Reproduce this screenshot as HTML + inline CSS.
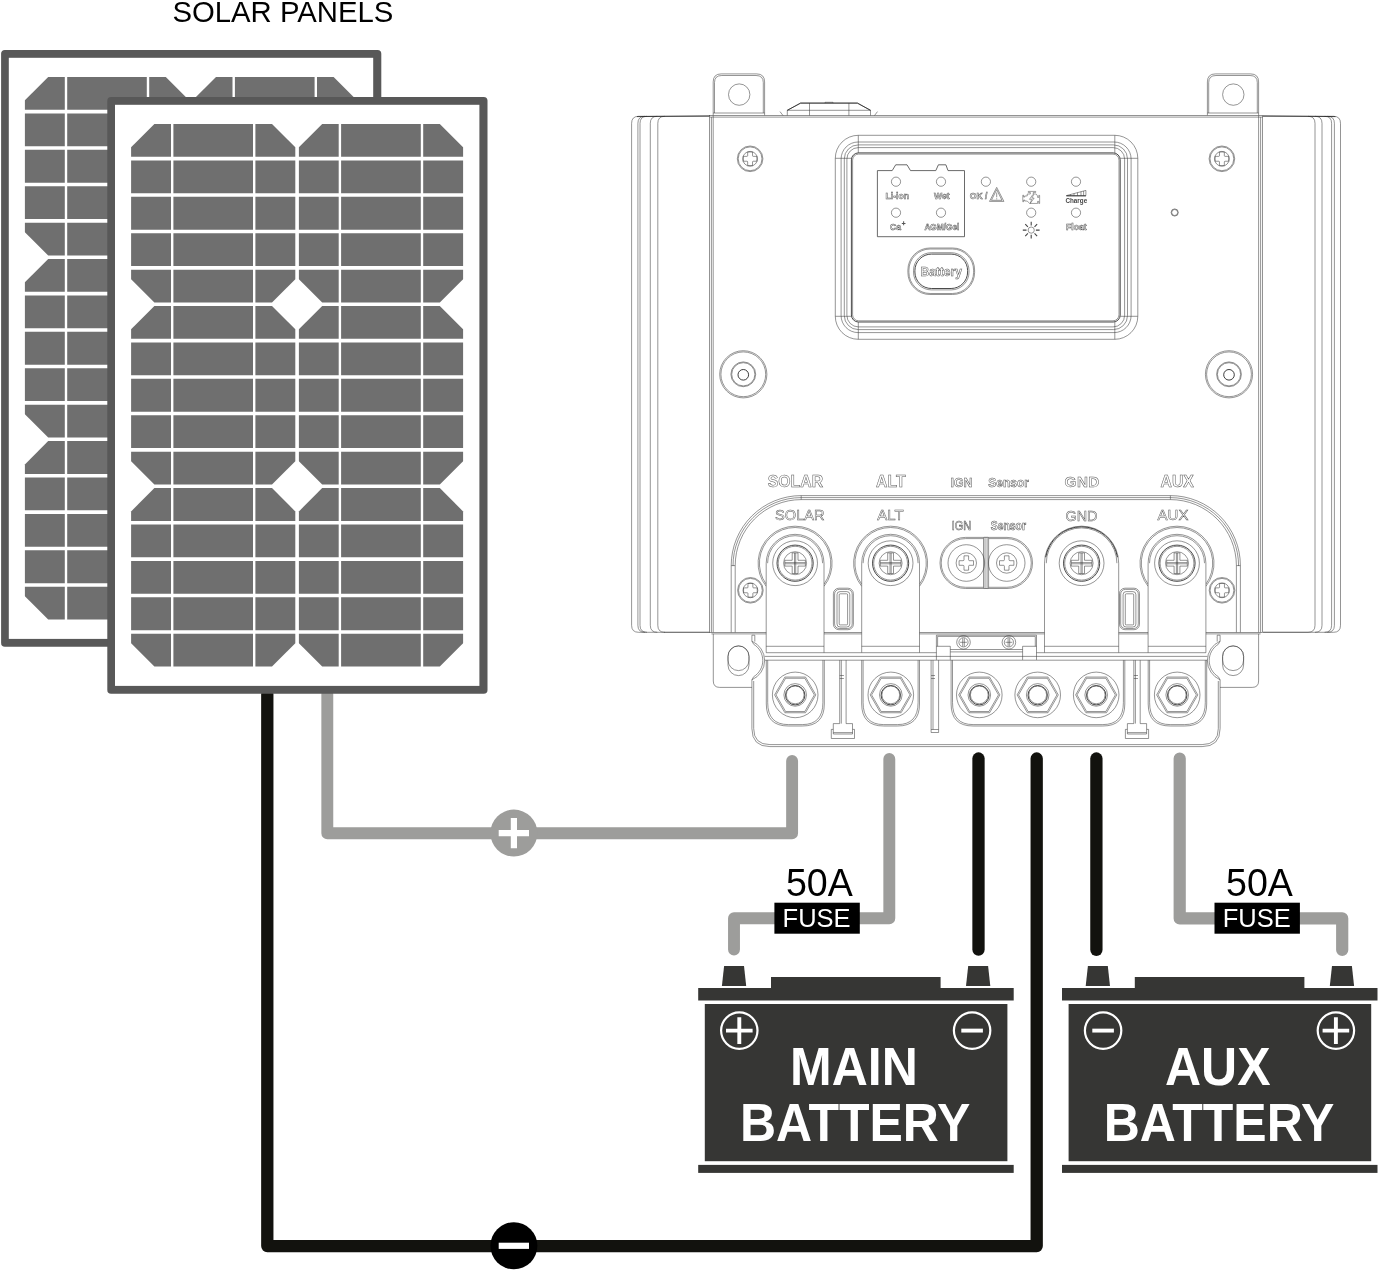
<!DOCTYPE html>
<html><head><meta charset="utf-8"><title>Solar wiring diagram</title>
<style>
html,body{margin:0;padding:0;background:#fff}
body{width:1378px;height:1270px;overflow:hidden}
svg{display:block;font-family:"Liberation Sans",sans-serif;will-change:transform}
.l{fill:none;stroke:#3c3c3c;stroke-width:0.55}
.k{fill:none;stroke:#2a2a2a;stroke-width:0.85}
.m{fill:none;stroke:#444;stroke-width:0.8}
.k2{fill:none;stroke:#333;stroke-width:0.95}
.w{fill:#fff;stroke:#3c3c3c;stroke-width:0.55}
.o{fill:#fff;stroke:#555;stroke-width:0.5;text-anchor:middle}
</style></head><body>
<svg width="1378" height="1270" viewBox="0 0 1378 1270">
<rect width="1378" height="1270" fill="#fff"/>
<text x="282.9" y="21.9" font-size="29.3" text-anchor="middle" fill="#000">SOLAR PANELS</text>
<path d="M267.3 694V1246.1H1036.7V758.5" fill="none" stroke="#12120e" stroke-width="12.3" stroke-linecap="round" stroke-linejoin="round"/>
<path d="M327.3 694V833.2H792.1V761" fill="none" stroke="#9d9d9b" stroke-width="11.9" stroke-linecap="round" stroke-linejoin="round"/>
<path d="M889.3 759V918.3H734V949.5" fill="none" stroke="#9d9d9b" stroke-width="11.9" stroke-linecap="round" stroke-linejoin="round"/>
<path d="M978.5 758.5V949.6" fill="none" stroke="#12120e" stroke-width="12.3" stroke-linecap="round" stroke-linejoin="round"/>
<path d="M1096.4 758.5V949.8" fill="none" stroke="#12120e" stroke-width="12.3" stroke-linecap="round" stroke-linejoin="round"/>
<path d="M1179.7 758.6V918.4H1342.2V950" fill="none" stroke="#9d9d9b" stroke-width="12.2" stroke-linecap="round" stroke-linejoin="round"/>
<g transform="translate(-106.2,-47)">
<rect x="107.3" y="97" width="380.2" height="596.8" rx="3.8" fill="#585858"/>
<rect x="115.0" y="104.8" width="364.4" height="581.1" fill="#fff"/>
<path fill="#6f6f6f" d="M154.40 124.00H272.00L295.30 147.30V279.15L272.00 302.45H154.40L131.10 279.15V147.30Z"/>
<path fill="#6f6f6f" d="M154.40 306.05H272.00L295.30 329.35V461.20L272.00 484.50H154.40L131.10 461.20V329.35Z"/>
<path fill="#6f6f6f" d="M154.40 488.10H272.00L295.30 511.40V643.25L272.00 666.55H154.40L131.10 643.25V511.40Z"/>
<path fill="#6f6f6f" d="M322.20 124.00H439.80L463.10 147.30V279.15L439.80 302.45H322.20L298.90 279.15V147.30Z"/>
<path fill="#6f6f6f" d="M322.20 306.05H439.80L463.10 329.35V461.20L439.80 484.50H322.20L298.90 461.20V329.35Z"/>
<path fill="#6f6f6f" d="M322.20 488.10H439.80L463.10 511.40V643.25L439.80 666.55H322.20L298.90 643.25V511.40Z"/>
<path d="M130.1 158.61H464.1M130.1 195.02H464.1M130.1 231.43H464.1M130.1 267.84H464.1M130.1 340.66H464.1M130.1 377.07H464.1M130.1 413.48H464.1M130.1 449.89H464.1M130.1 522.71H464.1M130.1 559.12H464.1M130.1 595.53H464.1M130.1 631.94H464.1" stroke="#fff" stroke-width="3.6" fill="none"/>
<path d="M172.2 123.0V670.15M254.2 123.0V670.15M339.9 123.0V670.15M422.0 123.0V670.15" stroke="#fff" stroke-width="2.4" fill="none"/>
</g>
<g transform="translate(0,0)">
<rect x="107.3" y="97" width="380.2" height="596.8" rx="3.8" fill="#585858"/>
<rect x="115.0" y="104.8" width="364.4" height="581.1" fill="#fff"/>
<path fill="#6f6f6f" d="M154.40 124.00H272.00L295.30 147.30V279.15L272.00 302.45H154.40L131.10 279.15V147.30Z"/>
<path fill="#6f6f6f" d="M154.40 306.05H272.00L295.30 329.35V461.20L272.00 484.50H154.40L131.10 461.20V329.35Z"/>
<path fill="#6f6f6f" d="M154.40 488.10H272.00L295.30 511.40V643.25L272.00 666.55H154.40L131.10 643.25V511.40Z"/>
<path fill="#6f6f6f" d="M322.20 124.00H439.80L463.10 147.30V279.15L439.80 302.45H322.20L298.90 279.15V147.30Z"/>
<path fill="#6f6f6f" d="M322.20 306.05H439.80L463.10 329.35V461.20L439.80 484.50H322.20L298.90 461.20V329.35Z"/>
<path fill="#6f6f6f" d="M322.20 488.10H439.80L463.10 511.40V643.25L439.80 666.55H322.20L298.90 643.25V511.40Z"/>
<path d="M130.1 158.61H464.1M130.1 195.02H464.1M130.1 231.43H464.1M130.1 267.84H464.1M130.1 340.66H464.1M130.1 377.07H464.1M130.1 413.48H464.1M130.1 449.89H464.1M130.1 522.71H464.1M130.1 559.12H464.1M130.1 595.53H464.1M130.1 631.94H464.1" stroke="#fff" stroke-width="3.6" fill="none"/>
<path d="M172.2 123.0V670.15M254.2 123.0V670.15M339.9 123.0V670.15M422.0 123.0V670.15" stroke="#fff" stroke-width="2.4" fill="none"/>
</g>
<circle cx="513.9" cy="833.1" r="23.5" fill="#9d9d9b"/>
<path d="M498.7 833.1H529M513.9 818V848.2" stroke="#fff" stroke-width="6.2" fill="none"/>
<circle cx="513.9" cy="1245.8" r="23.5" fill="#000"/>
<path d="M498.7 1245.8H529" stroke="#fff" stroke-width="6.2" fill="none"/>
<rect x="774.4" y="902.7" width="85.4" height="31" fill="#000"/>
<text transform="translate(816.6,926.9) scale(1,1.04)" font-size="25.5" text-anchor="middle" fill="#fff">FUSE</text>
<text transform="translate(819.4,896.4) scale(1,1.01)" font-size="37.6" text-anchor="middle" fill="#000">50A</text>
<rect x="1214.5" y="902.7" width="85.4" height="31" fill="#000"/>
<text transform="translate(1256.7,926.9) scale(1,1.04)" font-size="25.5" text-anchor="middle" fill="#fff">FUSE</text>
<text transform="translate(1259.5,896.4) scale(1,1.01)" font-size="37.6" text-anchor="middle" fill="#000">50A</text>
<g transform="translate(0,0)">
<path fill="#363634" d="M698.2 988.1H771V977H940.6V988.1H1013.7V1000.5H698.2Z"/>
<path fill="#363634" d="M724.1 966H744L746.2 986H721.9Z"/>
<path fill="#363634" d="M968.2 966H988.1L990.3 986H966Z"/>
<rect fill="#363634" x="704.8" y="1004" width="302.6" height="157.2"/>
<rect fill="#363634" x="698.2" y="1164.9" width="315.5" height="8"/>
<circle cx="739.3" cy="1030.6" r="18.2" fill="none" stroke="#fff" stroke-width="2.2"/>
<circle cx="972.1" cy="1030.6" r="18.2" fill="none" stroke="#fff" stroke-width="2.2"/>
<path d="M726.0 1030.6H752.5999999999999M739.3 1017.3V1043.8999999999999" stroke="#fff" stroke-width="3.9" fill="none"/>
<path d="M961.3000000000001 1030.6H982.9" stroke="#fff" stroke-width="3.9" fill="none"/>
<text transform="translate(853.9,1084.7) scale(1,1.055)" font-size="50" font-weight="bold" text-anchor="middle" fill="#fff">MAIN</text>
<text transform="translate(855.2,1140.9) scale(1,1.055)" font-size="50" font-weight="bold" text-anchor="middle" fill="#fff">BATTERY</text>
</g>
<g transform="translate(363.8,0)">
<path fill="#363634" d="M698.2 988.1H771V977H940.6V988.1H1013.7V1000.5H698.2Z"/>
<path fill="#363634" d="M724.1 966H744L746.2 986H721.9Z"/>
<path fill="#363634" d="M968.2 966H988.1L990.3 986H966Z"/>
<rect fill="#363634" x="704.8" y="1004" width="302.6" height="157.2"/>
<rect fill="#363634" x="698.2" y="1164.9" width="315.5" height="8"/>
<circle cx="972.1" cy="1030.6" r="18.2" fill="none" stroke="#fff" stroke-width="2.2"/>
<circle cx="739.3" cy="1030.6" r="18.2" fill="none" stroke="#fff" stroke-width="2.2"/>
<path d="M958.8000000000001 1030.6H985.4M972.1 1017.3V1043.8999999999999" stroke="#fff" stroke-width="3.9" fill="none"/>
<path d="M728.5 1030.6H750.0999999999999" stroke="#fff" stroke-width="3.9" fill="none"/>
<text transform="translate(853.9,1084.7) scale(1,1.055)" font-size="50" font-weight="bold" text-anchor="middle" fill="#fff">AUX</text>
<text transform="translate(855.2,1140.9) scale(1,1.055)" font-size="50" font-weight="bold" text-anchor="middle" fill="#fff">BATTERY</text>
</g>
<path class="l" d="M638.6 116.3Q631.6 116.3 631.6 123.3V625.3Q631.6 632.3 638.6 632.3"/>
<path class="l" d="M644.9 116.3Q637.9 116.3 637.9 123.3V625.3Q637.9 632.3 644.9 632.3"/>
<path class="l" d="M647.0 116.3Q640.0 116.3 640.0 123.3V625.3Q640.0 632.3 647.0 632.3"/>
<path class="l" d="M657.3 116.3Q650.3 116.3 650.3 123.3V625.3Q650.3 632.3 657.3 632.3"/>
<path class="l" d="M664.8 116.3Q657.8 116.3 657.8 123.3V625.3Q657.8 632.3 664.8 632.3"/>
<path class="l" d="M1333.5 116.3Q1340.5 116.3 1340.5 123.3V625.3Q1340.5 632.3 1333.5 632.3"/>
<path class="l" d="M1327.4 116.3Q1334.4 116.3 1334.4 123.3V625.3Q1334.4 632.3 1327.4 632.3"/>
<path class="l" d="M1324.6 116.3Q1331.6 116.3 1331.6 123.3V625.3Q1331.6 632.3 1324.6 632.3"/>
<path class="l" d="M1315.0 116.3Q1322.0 116.3 1322.0 123.3V625.3Q1322.0 632.3 1315.0 632.3"/>
<path class="l" d="M1308.0 116.3Q1315.0 116.3 1315.0 123.3V625.3Q1315.0 632.3 1308.0 632.3"/>
<path class="l" d="M638.6 116.3H709.7M638.6 632.3H709.7M1262.6 116.3H1333.5M1262.6 632.3H1333.5"/>
<path class="k" d="M637 116.6L709.7 115.9"/>
<path class="k" d="M1262.6 115.9L1335.4 116.6"/>
<path class="l" d="M664 632.3H709.7M1262.6 632.3H1308"/>
<path class="w" d="M713.2 115.5V81.9Q713.2 73.9 721.2 73.9H756.6Q764.6 73.9 764.6 81.9V115.5"/>
<path class="l" d="M714.5 113V82.5Q714.5 75.5 721.8000000000001 75.5H756.0Q763.3000000000001 75.5 763.3000000000001 82.5V113"/>
<path class="l" d="M713.2 113H764.6"/>
<circle class="l" cx="739.20" cy="94.60" r="10.70"/>
<path class="w" d="M1207.4 115.5V81.9Q1207.4 73.9 1215.4 73.9H1250.6Q1258.6 73.9 1258.6 81.9V115.5"/>
<path class="l" d="M1208.7 113V82.5Q1208.7 75.5 1216.0 75.5H1250.0Q1257.3 75.5 1257.3 82.5V113"/>
<path class="l" d="M1207.4 113H1258.6"/>
<circle class="l" cx="1233.30" cy="94.60" r="10.70"/>
<rect class="w" x="709.70" y="115.50" width="552.90" height="516.80" rx="0.00"/>
<path class="l" d="M713.2 115.5V632.3M1258.6 115.5V632.3M1262.6 117.1H709.7M711.4 117.1V632.3M1260.6 117.1V632.3"/>
<path class="l" d="M787.3 115.5V110.3L800.6 103.1H857.4L870.5 110.3V115.5M787.3 110.3H870.5M809.5 103.1V115.5M848.9 103.1V115.5M780 111.6L783 115.5M877.5 111.6L874.5 115.5"/>
<path class="k" d="M800.6 103.1H857.4M787.3 110.3L800.6 103.1M857.4 103.1L870.5 110.3"/>
<path class="l" d="M825 103.1V102.3H833V103.1"/>
<circle class="w" cx="750.10" cy="158.80" r="12.80"/>
<circle class="l" cx="750.10" cy="158.80" r="11.90"/>
<circle class="l" cx="750.10" cy="158.80" r="7.40"/>
<path class="l" transform="translate(750.10,158.80)" d="M-2.44 -6.81H2.44V-3.17Q2.44 -2.44 3.17 -2.44H6.81V2.44H3.17Q2.44 2.44 2.44 3.17V6.81H-2.44V3.17Q-2.44 2.44 -3.17 2.44H-6.81V-2.44H-3.17Q-2.44 -2.44 -2.44 -3.17Z"/>
<circle class="w" cx="1221.90" cy="158.80" r="12.80"/>
<circle class="l" cx="1221.90" cy="158.80" r="11.90"/>
<circle class="l" cx="1221.90" cy="158.80" r="7.40"/>
<path class="l" transform="translate(1221.90,158.80)" d="M-2.44 -6.81H2.44V-3.17Q2.44 -2.44 3.17 -2.44H6.81V2.44H3.17Q2.44 2.44 2.44 3.17V6.81H-2.44V3.17Q-2.44 2.44 -3.17 2.44H-6.81V-2.44H-3.17Q-2.44 -2.44 -2.44 -3.17Z"/>
<circle class="w" cx="750.40" cy="590.30" r="12.80"/>
<circle class="l" cx="750.40" cy="590.30" r="11.90"/>
<circle class="l" cx="750.40" cy="590.30" r="7.40"/>
<path class="l" transform="translate(750.40,590.30)" d="M-2.44 -6.81H2.44V-3.17Q2.44 -2.44 3.17 -2.44H6.81V2.44H3.17Q2.44 2.44 2.44 3.17V6.81H-2.44V3.17Q-2.44 2.44 -3.17 2.44H-6.81V-2.44H-3.17Q-2.44 -2.44 -2.44 -3.17Z"/>
<circle class="w" cx="1222.00" cy="590.30" r="12.80"/>
<circle class="l" cx="1222.00" cy="590.30" r="11.90"/>
<circle class="l" cx="1222.00" cy="590.30" r="7.40"/>
<path class="l" transform="translate(1222.00,590.30)" d="M-2.44 -6.81H2.44V-3.17Q2.44 -2.44 3.17 -2.44H6.81V2.44H3.17Q2.44 2.44 2.44 3.17V6.81H-2.44V3.17Q-2.44 2.44 -3.17 2.44H-6.81V-2.44H-3.17Q-2.44 -2.44 -2.44 -3.17Z"/>
<circle class="l" cx="743.30" cy="374.30" r="23.60"/>
<circle class="l" cx="743.30" cy="374.30" r="22.40"/>
<circle class="l" cx="743.30" cy="374.30" r="12.40"/>
<circle class="l" cx="743.30" cy="374.30" r="11.60"/>
<circle class="k2" cx="743.30" cy="374.80" r="5.30"/>
<circle class="l" cx="1229.00" cy="374.30" r="23.60"/>
<circle class="l" cx="1229.00" cy="374.30" r="22.40"/>
<circle class="l" cx="1229.00" cy="374.30" r="12.40"/>
<circle class="l" cx="1229.00" cy="374.30" r="11.60"/>
<circle class="k2" cx="1229.00" cy="374.80" r="5.30"/>
<circle class="l" cx="1174.70" cy="212.50" r="3.60"/>
<circle class="l" cx="1174.70" cy="212.50" r="3.00"/>
<rect class="l" x="835.30" y="135.30" width="302.50" height="204.00" rx="23.00"/>
<rect class="l" x="841.10" y="142.00" width="290.00" height="190.60" rx="17.00"/>
<rect class="l" x="844.30" y="144.90" width="283.20" height="184.70" rx="14.00"/>
<rect class="l" x="846.90" y="147.60" width="277.70" height="179.30" rx="11.50"/>
<rect class="k" x="851.40" y="152.90" width="268.80" height="169.10" rx="7.00"/>
<rect class="l" x="852.60" y="154.10" width="266.40" height="166.70" rx="6.00"/>
<path class="l" d="M858.3 135.3V153M835.3 158.3H851.4M1114.8 135.3V153M1137.8 158.3H1120.2M858.3 339.3V322M835.3 316.3H851.4M1114.8 339.3V322M1137.8 316.3H1120.2"/>
<path class="m" d="M877.4 170.6H892.2L895.7 164.8H907L910.5 170.6H935.8L938.4 164.8H945.9L948 170.6H964.5V236.7H877.4Z"/>
<circle class="l" cx="896.00" cy="181.70" r="4.60"/>
<circle class="l" cx="941.00" cy="181.70" r="4.60"/>
<circle class="l" cx="985.90" cy="181.70" r="4.60"/>
<circle class="l" cx="1031.20" cy="181.70" r="4.60"/>
<circle class="l" cx="1076.00" cy="181.70" r="4.60"/>
<circle class="l" cx="896.00" cy="212.70" r="4.60"/>
<circle class="l" cx="941.00" cy="212.70" r="4.60"/>
<circle class="l" cx="1031.20" cy="212.70" r="4.60"/>
<circle class="l" cx="1076.00" cy="212.70" r="4.60"/>
<text class="o" x="897.3" y="199.2" font-size="8.6" font-weight="bold">Li-ion</text>
<text class="o" x="941.9" y="199.2" font-size="8.6" font-weight="bold">Wet</text>
<text class="o" x="978.6" y="199.2" font-size="8.6" font-weight="bold">OK /</text>
<text class="o" x="895.5" y="229.7" font-size="8.6" font-weight="bold">Ca</text>
<text class="o" x="903.6" y="225.8" font-size="6.5">+</text>
<text class="o" x="941.9" y="229.7" font-size="8.3" font-weight="bold">AGM/Gel</text>
<text class="o" x="1076.3" y="229.7" font-size="8.6" font-weight="bold">Float</text>
<text x="1076.3" y="202.6" font-size="6.3" font-weight="bold" text-anchor="middle" fill="#444">Charge</text>
<path class="l" d="M996.7 187.4L1003.9 201.4H989.5Z M996.7 189.6L1002 200.3H991.4Z M996.7 192.5V197.3M996.7 198.3V199.4"/>
<g transform="translate(1031.2,197.6) scale(0.86) translate(-1030.8,-196.2)">
<path class="l" d="M1023.3 194.3H1026.2V192H1029.8V190.2H1027.4V189H1036V190.2H1033.2V192H1036.6L1038.2 194.3V196H1039.6V193.6H1040.6V203H1039.6V200.6H1038.2V203H1029L1026.2 200.2H1023.3V199H1022V201H1021V193.4H1022V195.6H1023.3Z"/>
<path class="l" d="M1032.6 192.8L1028.8 198.2H1031.4L1029.6 203L1034.2 196.8H1031.6L1033.6 192.8Z"/>
</g>
<path class="l" d="M1066.4 195.6L1085.9 190.4V195.6Z M1070.5 195.6V194.5M1074 195.6V193.6M1077.5 195.6V192.6M1081 195.6V191.7M1083.6 195.6V191"/>
<path class="k" d="M1066.4 195.9H1085.9"/>
<circle class="l" cx="1031.20" cy="230.10" r="3.10"/>
<path d="M1035.90 230.10L1039.60 230.10M1034.52 233.42L1037.14 236.04M1031.20 234.80L1031.20 238.50M1027.88 233.42L1025.26 236.04M1026.50 230.10L1022.80 230.10M1027.88 226.78L1025.26 224.16M1031.20 225.40L1031.20 221.70M1034.52 226.78L1037.14 224.16" fill="none" stroke="#444" stroke-width="1.1"/>
<rect class="l" x="907.90" y="248.00" width="66.70" height="46.50" rx="22.00"/>
<rect class="l" x="908.90" y="249.00" width="64.70" height="44.50" rx="21.20"/>
<rect class="k" x="914.90" y="254.10" width="52.70" height="34.40" rx="16.50"/>
<rect class="l" x="913.50" y="252.70" width="55.50" height="37.20" rx="17.80"/>
<text class="o" x="941.2" y="275.6" font-size="12" font-weight="bold">Battery</text>
<text class="o" x="795.4" y="487.0" font-size="15.8" font-weight="bold">SOLAR</text>
<text class="o" x="890.8" y="487.0" font-size="15.8" font-weight="bold">ALT</text>
<text class="o" transform="translate(961.4,486.7) scale(1,1.06)" font-size="12.3" font-weight="bold">IGN</text>
<text class="o" transform="translate(1008.6,486.7) scale(1,1.08)" font-size="12" font-weight="bold">Sensor</text>
<text class="o" x="1082.2" y="487.0" font-size="15.2" font-weight="bold" letter-spacing="0.5">GND</text>
<text class="o" x="1177.2" y="487.0" font-size="15.8" font-weight="bold">AUX</text>
<path class="l" d="M731.2 632.3V565.6A70 70 0 0 1 801.2 495.6H1170.4A70 70 0 0 1 1240.4 565.6V632.3"/>
<path class="l" d="M735.2 632.3V565.6A66 66 0 0 1 801.2 499.6H1170.4A66 66 0 0 1 1236.4 565.6V632.3"/>
<path class="l" d="M733.0 566A68.2 68.2 0 0 1 801.2 497.6H1170.4A68.2 68.2 0 0 1 1238.6 566"/>
<path class="l" d="M801.2 495.6V499.6M1170.4 495.6V499.6M731.2 565.6H735.2M1236.4 565.6H1240.4"/>
<text class="o" x="799.8" y="520.3" font-size="14.6">SOLAR</text>
<text class="o" x="890.4" y="520.3" font-size="15">ALT</text>
<text class="o" transform="translate(961.5,529.8) scale(1,1.18)" font-size="11.0">IGN</text>
<text class="o" transform="translate(1008.4,529.8) scale(1,1.18)" font-size="10.4" font-weight="bold">Sensor</text>
<text class="o" x="1081.5" y="520.5" font-size="14.4">GND</text>
<text class="o" x="1173.0" y="520.3" font-size="15">AUX</text>
<path class="l" d="M711.4 633.9H1260.6"/>
<path class="l" d="M766.2 586.30A37.0 37.0 0 1 1 824.0 586.30"/>
<path class="l" d="M766.2 584.16A35.7 35.7 0 1 1 824.0 584.16"/>
<path class="w" d="M766.2 652.7V563.2A28.9 28.9 0 0 1 824.0 563.2V652.7Z"/>
<path class="l" d="M766.2 646.3H824.0"/>
<path class="l" d="M767.6 563.2A27.5 27.5 0 0 1 822.6 563.2"/>
<circle class="l" cx="795.10" cy="563.20" r="22.40"/>
<circle class="k" cx="795.10" cy="563.20" r="18.10"/>
<circle class="l" cx="795.10" cy="563.20" r="16.90"/>
<circle class="l" cx="795.10" cy="563.20" r="11.50"/>
<path class="l" d="M792.2 552.9000000000001H798.0V560.3000000000001H805.4V566.1H798.0V573.5H792.2V566.1H784.8000000000001V560.3000000000001H792.2Z"/>
<path class="l" d="M794.5 552.9000000000001V573.5M795.7 552.9000000000001V573.5M784.8000000000001 562.6H805.4M784.8000000000001 563.8000000000001H805.4"/>
<path class="l" d="M861.7 586.30A37.0 37.0 0 1 1 919.5 586.30"/>
<path class="l" d="M861.7 584.16A35.7 35.7 0 1 1 919.5 584.16"/>
<path class="w" d="M861.7 652.7V563.2A28.9 28.9 0 0 1 919.5 563.2V652.7Z"/>
<path class="l" d="M861.7 646.3H919.5"/>
<path class="l" d="M863.1 563.2A27.5 27.5 0 0 1 918.1 563.2"/>
<circle class="l" cx="890.60" cy="563.20" r="22.40"/>
<circle class="k" cx="890.60" cy="563.20" r="18.10"/>
<circle class="l" cx="890.60" cy="563.20" r="16.90"/>
<circle class="l" cx="890.60" cy="563.20" r="11.50"/>
<path class="l" d="M887.7 552.9000000000001H893.5V560.3000000000001H900.9V566.1H893.5V573.5H887.7V566.1H880.3000000000001V560.3000000000001H887.7Z"/>
<path class="l" d="M890.0 552.9000000000001V573.5M891.2 552.9000000000001V573.5M880.3000000000001 562.6H900.9M880.3000000000001 563.8000000000001H900.9"/>
<path class="w" d="M1044.5 652.7V563.2A37.1 37.1 0 0 1 1118.6999999999998 563.2V652.7Z"/>
<path class="l" d="M1044.5 646.3H1118.6999999999998"/>
<path class="k2" d="M1045.6999999999998 557.2A36.4 36.4 0 0 1 1117.5 557.2"/>
<path class="l" d="M1046.3 563.2A35.300000000000004 35.300000000000004 0 0 1 1116.8999999999999 563.2"/>
<circle class="l" cx="1081.60" cy="563.20" r="22.40"/>
<circle class="k" cx="1081.60" cy="563.20" r="18.10"/>
<circle class="l" cx="1081.60" cy="563.20" r="16.90"/>
<circle class="l" cx="1081.60" cy="563.20" r="11.50"/>
<path class="l" d="M1078.6999999999998 552.9000000000001H1084.5V560.3000000000001H1091.8999999999999V566.1H1084.5V573.5H1078.6999999999998V566.1H1071.3V560.3000000000001H1078.6999999999998Z"/>
<path class="l" d="M1081.0 552.9000000000001V573.5M1082.1999999999998 552.9000000000001V573.5M1071.3 562.6H1091.8999999999999M1071.3 563.8000000000001H1091.8999999999999"/>
<path class="l" d="M1148.1 586.30A37.0 37.0 0 1 1 1205.9 586.30"/>
<path class="l" d="M1148.1 584.16A35.7 35.7 0 1 1 1205.9 584.16"/>
<path class="w" d="M1148.1 652.7V563.2A28.9 28.9 0 0 1 1205.9 563.2V652.7Z"/>
<path class="l" d="M1148.1 646.3H1205.9"/>
<path class="l" d="M1149.5 563.2A27.5 27.5 0 0 1 1204.5 563.2"/>
<circle class="l" cx="1177.00" cy="563.20" r="22.40"/>
<circle class="k" cx="1177.00" cy="563.20" r="18.10"/>
<circle class="l" cx="1177.00" cy="563.20" r="16.90"/>
<circle class="l" cx="1177.00" cy="563.20" r="11.50"/>
<path class="l" d="M1174.1 552.9000000000001H1179.9V560.3000000000001H1187.3V566.1H1179.9V573.5H1174.1V566.1H1166.7V560.3000000000001H1174.1Z"/>
<path class="l" d="M1176.4 552.9000000000001V573.5M1177.6 552.9000000000001V573.5M1166.7 562.6H1187.3M1166.7 563.8000000000001H1187.3"/>
<rect class="l" x="940.00" y="537.40" width="92.50" height="51.10" rx="25.50"/>
<rect class="l" x="941.20" y="538.60" width="90.10" height="48.70" rx="24.40"/>
<rect class="w" x="983.50" y="537.40" width="5.10" height="51.10" rx="0.80"/>
<path class="l" d="M985.0 538V588M987.1 538V588"/>
<circle class="l" cx="966.30" cy="563.00" r="18.30"/>
<circle class="l" cx="966.30" cy="563.00" r="10.20"/>
<path class="l" d="M964.0 555.8H968.5999999999999V559.7Q968.5999999999999 560.7 969.5999999999999 560.7H973.5V565.3H969.5999999999999Q968.5999999999999 565.3 968.5999999999999 566.3V570.2H964.0V566.3Q964.0 565.3 963.0 565.3H959.0999999999999V560.7H963.0Q964.0 560.7 964.0 559.7Z"/>
<circle class="l" cx="1006.70" cy="563.00" r="18.30"/>
<circle class="l" cx="1006.70" cy="563.00" r="10.20"/>
<path class="l" d="M1004.4000000000001 555.8H1009.0V559.7Q1009.0 560.7 1010.0 560.7H1013.9000000000001V565.3H1010.0Q1009.0 565.3 1009.0 566.3V570.2H1004.4000000000001V566.3Q1004.4000000000001 565.3 1003.4000000000001 565.3H999.5V560.7H1003.4000000000001Q1004.4000000000001 560.7 1004.4000000000001 559.7Z"/>
<rect class="l" x="833.40" y="588.20" width="20.00" height="41.50" rx="5.50"/>
<rect class="l" x="834.60" y="589.40" width="17.60" height="39.10" rx="4.60"/>
<rect class="l" x="839.20" y="593.80" width="8.40" height="31.10" rx="1.00"/>
<rect class="l" x="837.00" y="591.60" width="12.80" height="35.40" rx="3.00"/>
<rect class="l" x="1119.50" y="588.20" width="20.00" height="41.50" rx="5.50"/>
<rect class="l" x="1120.70" y="589.40" width="17.60" height="39.10" rx="4.60"/>
<rect class="l" x="1125.30" y="593.80" width="8.40" height="31.10" rx="1.00"/>
<rect class="l" x="1123.10" y="591.60" width="12.80" height="35.40" rx="3.00"/>
<path class="l" d="M713.3 633.9V681Q713.3 687.4 719.7 687.4H751.9"/>
<path class="l" d="M1258.6 633.9V681Q1258.6 687.4 1252.2 687.4H1220"/>
<rect class="l" x="728.00" y="645.90" width="21.00" height="24.70" rx="10.50"/>
<rect class="l" x="728.00" y="645.90" width="21.00" height="29.70" rx="10.50"/>
<rect class="l" x="1222.60" y="645.90" width="21.00" height="24.70" rx="10.50"/>
<rect class="l" x="1222.60" y="645.90" width="21.00" height="29.70" rx="10.50"/>
<path class="l" d="M751.9 635.2V641.2A21 21 0 0 1 751.9 679.8V728.6Q751.9 746.6 769.9 746.6H1202.1Q1220.1 746.6 1220.1 728.6V679.8A21 21 0 0 1 1220.1 641.2V635.2"/>
<path class="l" d="M753.7 681V728.6Q753.7 744.6 769.9 744.6H1202.1Q1218.3 744.6 1218.3 728.6V681"/>
<path class="l" d="M753.7 644.3A19 19 0 0 1 753.7 676.7M1218.3 644.3A19 19 0 0 0 1218.3 676.7M751.9 641.2L753.7 644.3M751.9 679.8L753.7 676.7M1220.1 641.2L1218.3 644.3M1220.1 679.8L1218.3 676.7"/>
<path class="l" d="M751.9 635.2H754.8V641.6M1220.1 635.2H1217.2V641.6"/>
<path class="l" d="M764.7 656.4H1207.4M764.7 660.2H1207.4M824 652.7H861.7M919.5 652.7H936.4M1036.5 652.7H1044.5M1118.7 652.7H1148.1"/>
<path class="l" d="M766.3 660.2V704.0Q766.3 726 788.3 726H802.3Q824.3 726 824.3 704.0V660.2"/>
<path class="l" d="M767.6999999999999 660.2V702.6Q767.6999999999999 724.6 788.3 724.6H802.3Q822.9 724.6 822.9 702.6V660.2"/>
<path class="l" d="M861.7 660.2V704.0Q861.7 726 883.7 726H897.5Q919.5 726 919.5 704.0V660.2"/>
<path class="l" d="M863.1 660.2V702.6Q863.1 724.6 883.7 724.6H897.5Q918.1 724.6 918.1 702.6V660.2"/>
<path class="l" d="M951.1 660.2V704.0Q951.1 726 973.1 726H1102.8Q1124.8 726 1124.8 704.0V660.2"/>
<path class="l" d="M952.5 660.2V702.6Q952.5 724.6 973.1 724.6H1102.8Q1123.3999999999999 724.6 1123.3999999999999 702.6V660.2"/>
<path class="l" d="M1148.2 660.2V704.0Q1148.2 726 1170.2 726H1184.7Q1206.7 726 1206.7 704.0V660.2"/>
<path class="l" d="M1149.6000000000001 660.2V702.6Q1149.6000000000001 724.6 1170.2 724.6H1184.7Q1205.3 724.6 1205.3 702.6V660.2"/>
<circle class="l" cx="795.20" cy="694.90" r="22.80"/>
<path class="l" d="M815.80 694.90L805.50 712.74L784.90 712.74L774.60 694.90L784.90 677.06L805.50 677.06Z"/>
<path class="l" d="M814.40 694.90L804.80 711.53L785.60 711.53L776.00 694.90L785.60 678.27L804.80 678.27Z"/>
<circle class="l" cx="795.20" cy="694.90" r="11.30"/>
<circle class="k" cx="795.20" cy="695.20" r="9.70"/>
<circle class="l" cx="795.20" cy="694.90" r="8.90"/>
<circle class="l" cx="890.80" cy="694.90" r="22.80"/>
<path class="l" d="M911.40 694.90L901.10 712.74L880.50 712.74L870.20 694.90L880.50 677.06L901.10 677.06Z"/>
<path class="l" d="M910.00 694.90L900.40 711.53L881.20 711.53L871.60 694.90L881.20 678.27L900.40 678.27Z"/>
<circle class="l" cx="890.80" cy="694.90" r="11.30"/>
<circle class="k" cx="890.80" cy="695.20" r="9.70"/>
<circle class="l" cx="890.80" cy="694.90" r="8.90"/>
<circle class="l" cx="979.30" cy="694.90" r="22.80"/>
<path class="l" d="M999.90 694.90L989.60 712.74L969.00 712.74L958.70 694.90L969.00 677.06L989.60 677.06Z"/>
<path class="l" d="M998.50 694.90L988.90 711.53L969.70 711.53L960.10 694.90L969.70 678.27L988.90 678.27Z"/>
<circle class="l" cx="979.30" cy="694.90" r="11.30"/>
<circle class="k" cx="979.30" cy="695.20" r="9.70"/>
<circle class="l" cx="979.30" cy="694.90" r="8.90"/>
<circle class="l" cx="1037.70" cy="694.90" r="22.80"/>
<path class="l" d="M1058.30 694.90L1048.00 712.74L1027.40 712.74L1017.10 694.90L1027.40 677.06L1048.00 677.06Z"/>
<path class="l" d="M1056.90 694.90L1047.30 711.53L1028.10 711.53L1018.50 694.90L1028.10 678.27L1047.30 678.27Z"/>
<circle class="l" cx="1037.70" cy="694.90" r="11.30"/>
<circle class="k" cx="1037.70" cy="695.20" r="9.70"/>
<circle class="l" cx="1037.70" cy="694.90" r="8.90"/>
<circle class="l" cx="1096.20" cy="694.90" r="22.80"/>
<path class="l" d="M1116.80 694.90L1106.50 712.74L1085.90 712.74L1075.60 694.90L1085.90 677.06L1106.50 677.06Z"/>
<path class="l" d="M1115.40 694.90L1105.80 711.53L1086.60 711.53L1077.00 694.90L1086.60 678.27L1105.80 678.27Z"/>
<circle class="l" cx="1096.20" cy="694.90" r="11.30"/>
<circle class="k" cx="1096.20" cy="695.20" r="9.70"/>
<circle class="l" cx="1096.20" cy="694.90" r="8.90"/>
<circle class="l" cx="1177.20" cy="694.90" r="22.80"/>
<path class="l" d="M1197.80 694.90L1187.50 712.74L1166.90 712.74L1156.60 694.90L1166.90 677.06L1187.50 677.06Z"/>
<path class="l" d="M1196.40 694.90L1186.80 711.53L1167.60 711.53L1158.00 694.90L1167.60 678.27L1186.80 678.27Z"/>
<circle class="l" cx="1177.20" cy="694.90" r="11.30"/>
<circle class="k" cx="1177.20" cy="695.20" r="9.70"/>
<circle class="l" cx="1177.20" cy="694.90" r="8.90"/>
<path class="l" d="M839.6999999999999 660.2V723.6M846.1 660.2V723.6M841.3 660.2V723.6M839.6999999999999 675.5H843.9M839.6999999999999 678.5H843.9"/>
<path class="l" d="M839.6999999999999 723.6H833.3V729.4H831.3V738.5H854.5V729.4H852.5V723.6H846.1M833.3 729.4V734H852.5V729.4M833.3 732.6H852.5"/>
<path class="l" d="M1133.8 660.2V723.6M1140.2 660.2V723.6M1135.4 660.2V723.6M1133.8 675.5H1138.0M1133.8 678.5H1138.0"/>
<path class="l" d="M1133.8 723.6H1127.4V729.4H1125.4V738.5H1148.6V729.4H1146.6V723.6H1140.2M1127.4 729.4V734H1146.6V729.4M1127.4 732.6H1146.6"/>
<path class="l" d="M931.1 660.2V732.5H938.6V660.2M933 660.2V729.5M931.1 729.5H938.6M931.1 675.5H935M931.1 678.5H935"/>
<path class="l" d="M936.4 659.9V635.2H1036.5V659.9M936.4 646.3H950.3V659.9M1036.5 646.3H1022.6V659.9M950.3 649.5H1022.6M950.3 651.9H1022.6M937.6 646.3V636.4H1035.3V646.3"/>
<circle class="l" cx="963.50" cy="642.30" r="6.80"/>
<circle class="l" cx="963.50" cy="642.30" r="4.60"/>
<path class="l" d="M962.7 638.3V646.3M964.3 638.3V646.3M960.1 642.3H966.9"/>
<circle class="l" cx="1008.90" cy="642.30" r="6.80"/>
<circle class="l" cx="1008.90" cy="642.30" r="4.60"/>
<path class="l" d="M1008.1 638.3V646.3M1009.6999999999999 638.3V646.3M1005.5 642.3H1012.3"/>
</svg>
</body></html>
